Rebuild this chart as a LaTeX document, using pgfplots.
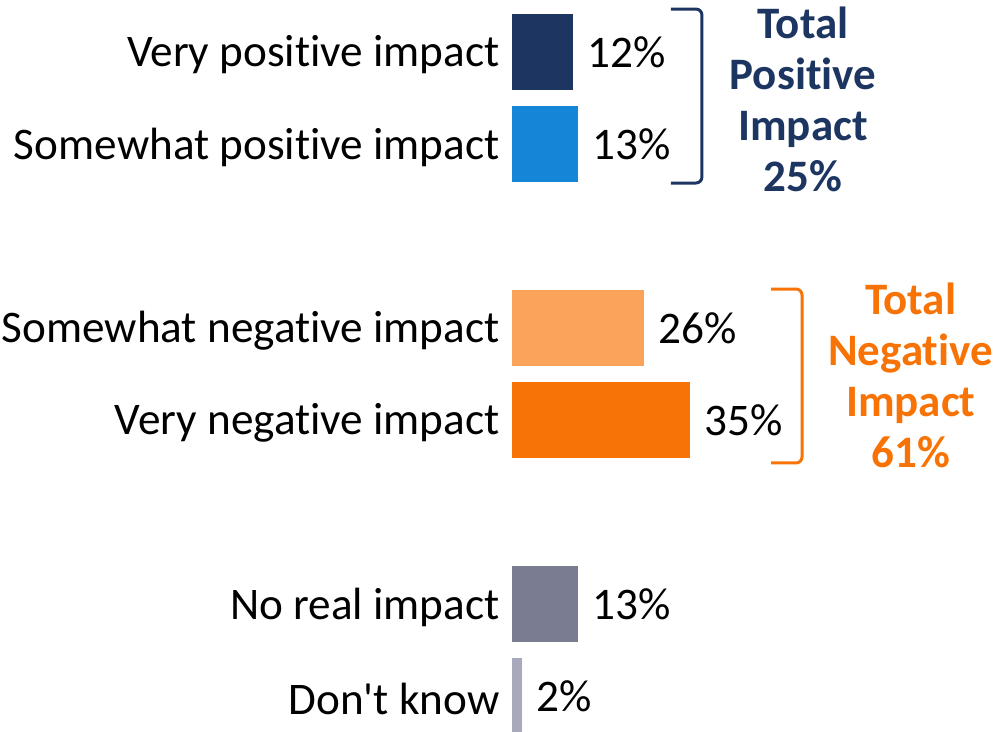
\documentclass[border=0pt]{standalone}
\usepackage{pgfplots}
\pgfplotsset{compat=1.18}
\usepackage{fontspec}
\setmainfont{Carlito}[Ligatures=NoCommon]
\definecolor{navy}{HTML}{1D3661}
\definecolor{brightblue}{HTML}{1585D8}
\definecolor{lightorange}{HTML}{FBA35A}
\definecolor{orange}{HTML}{F77306}
\definecolor{slate}{HTML}{7A7C91}
\definecolor{lightslate}{HTML}{A9A9BC}
\begin{document}
\begin{tikzpicture}
\begin{axis}[name=a, xbar, scale only axis, width=241pt, height=365.5pt,
  xmin=0, xmax=94.9, ymin=-0.5652, ymax=7.3804, y dir=reverse,
  bar width=38pt, bar shift=0pt,
  axis line style={draw=none}, tick style={draw=none}, major tick length=0pt,
  xtick=\empty, ytick={0,1,3,4,6,7},
  yticklabels={Very positive impact, Somewhat positive impact, Somewhat negative impact, Very negative impact, No real impact, Don\textquotesingle t know},
  yticklabel style={font=\fontsize{22.6}{27}\selectfont, inner sep=0pt, xshift=-6pt, yshift=-1.5pt},
  point meta=x,
  nodes near coords={\pgfmathprintnumber{\pgfplotspointmeta}\%},
  nodes near coords style={font=\fontsize{22.6}{27}\selectfont, inner sep=0pt, xshift=7pt, anchor=west, text=black},
  /pgf/number format/assume math mode=true,
  clip mode=individual]
\addplot[fill=navy, draw=none] coordinates {(12,0)};
\addplot[fill=brightblue, draw=none] coordinates {(13,1)};
\addplot[fill=lightorange, draw=none] coordinates {(26,3)};
\addplot[fill=orange, draw=none] coordinates {(35,4)};
\addplot[fill=slate, draw=none] coordinates {(13,6)};
\addplot[fill=lightslate, draw=none] coordinates {(2,7)};
\draw[navy, line width=1.5pt, rounded corners=3pt] (axis cs:31.3,-0.467) -- (axis cs:37.4,-0.467) -- (axis cs:37.4,1.424) -- (axis cs:31.3,1.424);
\draw[orange, line width=1.5pt, rounded corners=3pt] (axis cs:51.0,2.576) -- (axis cs:57.1,2.576) -- (axis cs:57.1,4.467) -- (axis cs:51.0,4.467);
\node[align=center, text=navy, font=\fontsize{22.5}{25.5}\selectfont\bfseries] at (axis cs:57.3,0.52) {Total\\Positive\\Impact\\25\%};
\node[align=center, text=orange, font=\fontsize{22.5}{25.5}\selectfont\bfseries] at (axis cs:78.5,3.51) {Total\\Negative\\Impact\\61\%};
\end{axis}
\pgfresetboundingbox
\path[use as bounding box] ([xshift=-256pt]a.south west) rectangle (a.north east);
\end{tikzpicture}
\end{document}
